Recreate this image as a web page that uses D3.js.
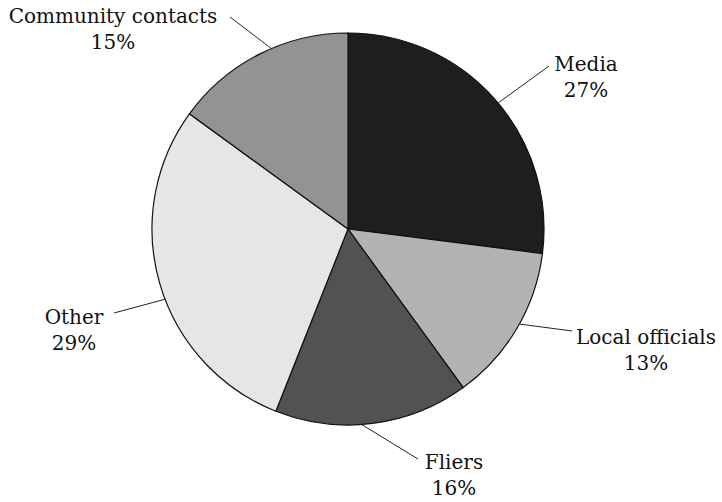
<!DOCTYPE html>
<html>
<head>
<meta charset="utf-8">
<script src="https://cdn.jsdelivr.net/npm/d3@7"></script>
<style>
  html, body { margin: 0; padding: 0; background: #fff; }
  text { font-family: "DejaVu Serif", serif; fill: #111; }
</style>
</head>
<body>
<svg id="chart" width="722" height="502"></svg>
<script>
// ---- data ----
const categories = ["Media", "Local officials", "Fliers", "Other", "Community contacts"];
const percents = [27, 13, 16, 29, 15];
const colors = ["#1e1e1e", "#b3b3b3", "#525252", "#e6e6e6", "#939393"];

// ---- layout (label anchor points and leader geometry) ----
const labelX = [586, 646, 454, 74, 113];
const labelY = [71, 344, 469, 324, 23];
const leaderAngle = [50, 119, 176, 249, 337];
const leaderEnd = [[549, 66], [572, 331], [418, 459], [114, 313], [230, 17]];

const cx = 348, cy = 229, R = 196;
const svg = d3.select("#chart");
const g = svg.append("g").attr("transform", `translate(${cx},${cy})`);

const data = categories.map((c, i) => ({ name: c, value: percents[i], color: colors[i] }));
const pie = d3.pie().value(d => d.value).sort(null);
const arc = d3.arc().innerRadius(0).outerRadius(R);

g.selectAll("path.slice")
  .data(pie(data))
  .join("path")
  .attr("class", "slice")
  .attr("d", arc)
  .attr("fill", d => d.data.color)
  .attr("stroke", "#111")
  .attr("stroke-width", 1.2);

// leader lines
const rad = d => d * Math.PI / 180;
svg.selectAll("line.leader")
  .data(data)
  .join("line")
  .attr("class", "leader")
  .attr("x1", (d, i) => cx + R * Math.sin(rad(leaderAngle[i])))
  .attr("y1", (d, i) => cy - R * Math.cos(rad(leaderAngle[i])))
  .attr("x2", (d, i) => leaderEnd[i][0])
  .attr("y2", (d, i) => leaderEnd[i][1])
  .attr("stroke", "#222")
  .attr("stroke-width", 1);

// labels
const lab = svg.selectAll("g.label")
  .data(data)
  .join("g")
  .attr("class", "label")
  .attr("transform", (d, i) => `translate(${labelX[i]},${labelY[i]})`);
lab.append("text")
  .attr("text-anchor", "middle")
  .attr("font-size", 20)
  .text(d => d.name);
lab.append("text")
  .attr("text-anchor", "middle")
  .attr("y", 26)
  .attr("font-size", 20)
  .text(d => d.value + "%");
</script>
</body>
</html>
